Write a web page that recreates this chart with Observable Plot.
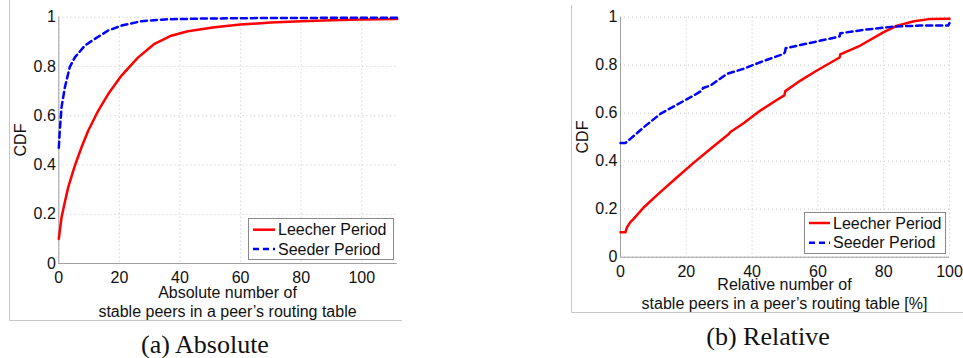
<!DOCTYPE html>
<html><head><meta charset="utf-8">
<script src="https://cdn.jsdelivr.net/npm/d3@7"></script>
<script src="https://cdn.jsdelivr.net/npm/@observablehq/plot@0.6"></script>
<style>
body{margin:0;background:#fff;}
#root{position:relative;width:963px;height:358px;overflow:hidden;background:#fff;}
#root svg{position:absolute;}
</style></head><body><div id="root"></div>
<script>
// ---- data ----
const seriesNames = ["Leecher Period", "Seeder Period"];
const yTicks = [0, 0.2, 0.4, 0.6, 0.8, 1];

// (a) Absolute
const absXTicks = [0, 20, 40, 60, 80, 100];
const absXMax = 111.7;
const absLeecherX = [0, 0.9, 2, 3.1, 5.3, 7.5, 9.7, 13, 16.3, 20.7, 26.2, 31.6, 37.1, 42.6, 51.4, 60, 70, 80, 90, 100, 111.7];
const absLeecherY = [0.10, 0.187, 0.25, 0.309, 0.397, 0.472, 0.539, 0.62, 0.688, 0.763, 0.837, 0.892, 0.925, 0.943, 0.959, 0.97, 0.978, 0.984, 0.988, 0.991, 0.993];
const absSeederX = [0, 0.33, 0.9, 2, 3.6, 5.3, 8.6, 11.9, 16.3, 20.7, 27.3, 35, 45, 60, 80, 100, 111.7];
const absSeederY = [0.47, 0.54, 0.634, 0.715, 0.797, 0.837, 0.885, 0.912, 0.946, 0.966, 0.984, 0.991, 0.994, 0.996, 0.997, 0.998, 0.998];

// (b) Relative
const relXTicks = [0, 20, 40, 60, 80, 100];
const relXMax = 100;
const relLeecherX = [0, 1.5, 2, 3, 4, 7.1, 12.1, 17.2, 22.3, 27.3, 32.9, 33.4, 37.4, 42.5, 47.6, 49.8, 50.1, 54.7, 59.7, 65.8, 66.6, 66.8, 72.9, 80, 84.1, 89.2, 94.3, 100];
const relLeecherY = [0.104, 0.104, 0.125, 0.146, 0.16, 0.208, 0.271, 0.333, 0.394, 0.451, 0.513, 0.522, 0.558, 0.611, 0.656, 0.674, 0.692, 0.736, 0.778, 0.826, 0.832, 0.845, 0.882, 0.938, 0.965, 0.983, 0.993, 0.994];
const relSeederX = [0, 1.5, 3, 7.1, 12.1, 17.2, 22.3, 24.8, 25.1, 27.3, 32.4, 37.4, 42.5, 49.6, 50, 50.2, 55, 60, 65.8, 66.6, 66.8, 73.9, 83, 91, 99.6, 100];
const relSeederY = [0.476, 0.476, 0.493, 0.542, 0.597, 0.636, 0.674, 0.695, 0.705, 0.715, 0.764, 0.785, 0.8125, 0.847, 0.855, 0.871, 0.885, 0.90, 0.917, 0.92, 0.933, 0.947, 0.961, 0.965, 0.965, 0.975];

const absTitle = ["Absolute number of", "stable peers in a peer\u2019s routing table"];
const relTitle = ["Relative number of", "stable peers in a peer\u2019s routing table [%]"];
const captions = ["(a) Absolute", "(b) Relative"];

// ---- helpers ----
const zip = (xs, ys) => xs.map((x, i) => ({x, y: ys[i]}));
const FONT = "'Liberation Sans', Arial, Helvetica, sans-serif";
const RED = "#ff0000", BLUE = "#0000ff";

function panel({xTicks, xMax, leecher, seeder, width, height, ml, mt, mr, mb}) {
  const grid = {stroke: "#b8b8b8", strokeOpacity: 1, strokeWidth: 0.8, strokeDasharray: "1,3"};
  return Plot.plot({
    width, height,
    marginLeft: ml, marginTop: mt, marginRight: mr, marginBottom: mb,
    style: {fontFamily: FONT, fontSize: "16px", color: "#111", background: "transparent", overflow: "visible"},
    x: {domain: [0, xMax]},
    y: {domain: [0, 1]},
    marks: [
      Plot.gridX(xTicks, grid),
      Plot.gridY(yTicks, grid),
      Plot.ruleX([0], {stroke: "#a0a0a0", strokeWidth: 1}),
      Plot.ruleY([0], {stroke: "#a0a0a0", strokeWidth: 1}),
      Plot.axisX(xTicks, {tickSize: 0, tickPadding: 8, label: null, tickFormat: d => String(d), fill: "#111"}),
      Plot.axisY(yTicks, {tickSize: 0, tickPadding: 3, label: null, tickFormat: d => String(d), fill: "#111"}),
      Plot.line(leecher, {x: "x", y: "y", stroke: RED, strokeWidth: 2.5}),
      Plot.line(seeder, {x: "x", y: "y", stroke: BLUE, strokeWidth: 2.5, strokeDasharray: "6,4"})
    ]
  });
}

const root = document.getElementById("root");

// background overlay (frames)
const bg = d3.select(root).append("svg").attr("width", 963).attr("height", 358).style("left", "0px").style("top", "0px");
bg.append("path").attr("d", "M9.5,0 V320.5 H402").attr("fill", "none").attr("stroke", "#c8c8c8");
bg.append("path").attr("d", "M571.5,5 V312.5 H963").attr("fill", "none").attr("stroke", "#c8c8c8");

const p1 = panel({xTicks: absXTicks, xMax: absXMax, leecher: zip(absLeecherX, absLeecherY), seeder: zip(absSeederX, absSeederY),
  width: 480, height: 330, ml: 58.3, mt: 16.7, mr: 480 - 396.7, mb: 330 - 263});
p1.style.left = "0px"; p1.style.top = "0px";
root.appendChild(p1);

const p2 = panel({xTicks: relXTicks, xMax: relXMax, leecher: zip(relLeecherX, relLeecherY), seeder: zip(relSeederX, relSeederY),
  width: 392, height: 330, ml: 49, mt: 16.7, mr: 392 - 378, mb: 330 - 256.7});
p2.style.left = "571px"; p2.style.top = "0px";
root.appendChild(p2);

// annotation overlay
const ov = d3.select(root).append("svg").attr("width", 963).attr("height", 358).style("left", "0px").style("top", "0px")
  .attr("font-family", FONT).attr("font-size", 16).attr("fill", "#111");

function titles(lines, cx, b1) {
  lines.forEach((t, i) => ov.append("text").attr("x", cx).attr("y", b1 + i * 19).attr("text-anchor", "middle").text(t));
}
titles(absTitle, 227.5, 297.5);
titles(relTitle, 784.5, 289.5);

function cdf(x, y) {
  ov.append("text").attr("transform", `translate(${x},${y}) rotate(-90)`).attr("text-anchor", "middle").text("CDF");
}
cdf(26.4, 140);
cdf(587.7, 137);

function legend(x, y, w, h, r1, r2, l0, l1, tx) {
  ov.append("rect").attr("x", x + 0.5).attr("y", y + 0.5).attr("width", w).attr("height", h)
    .attr("fill", "#fff").attr("stroke", "#8a8a8a").attr("stroke-width", 1);
  [[r1, RED, null], [r2, BLUE, "6,4"]].forEach(([ry, c, da], i) => {
    const ln = ov.append("line").attr("x1", x + l0).attr("x2", x + l1).attr("y1", y + ry).attr("y2", y + ry)
      .attr("stroke", c).attr("stroke-width", 2.5);
    if (da) ln.attr("stroke-dasharray", da);
    ov.append("text").attr("x", x + tx).attr("y", y + ry + 5.7).text(seriesNames[i]);
  });
}
legend(248, 218, 145, 41, 11.7, 31, 5, 27, 30);
legend(804, 212, 141, 41, 11, 30.7, 5, 26, 29);

ov.append("text").attr("x", 205).attr("y", 353).attr("text-anchor", "middle")
  .attr("font-family", "'Liberation Serif', 'Times New Roman', serif").attr("font-size", 26).text(captions[0]);
ov.append("text").attr("x", 768).attr("y", 345).attr("text-anchor", "middle")
  .attr("font-family", "'Liberation Serif', 'Times New Roman', serif").attr("font-size", 26).text(captions[1]);
</script></body></html>
